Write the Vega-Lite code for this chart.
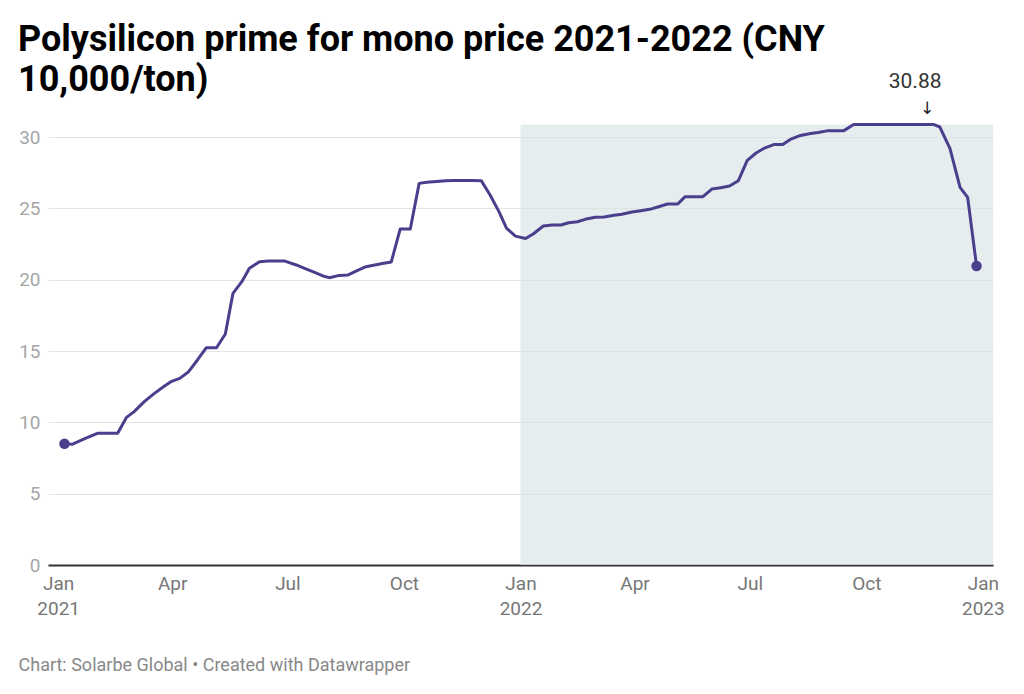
{
  "$schema": "https://vega.github.io/schema/vega-lite/v6.json",
  "width": 945,
  "height": 428,
  "autosize": {"type": "none"},
  "padding": {"left": 48, "top": 137, "right": 31, "bottom": 129},
  "background": "#ffffff",
  "config": {
    "font": "Roboto",
    "view": {"stroke": null}
  },
  "title": {
    "text": ["Polysilicon prime for mono price 2021-2022 (CNY", "10,000/ton)"],
    "anchor": "start",
    "frame": "group",
    "dx": -30,
    "fontSize": 36,
    "fontWeight": "bold",
    "font": "Roboto",
    "color": "#000000",
    "lineHeight": 40,
    "offset": -28
  },
  "datasets": {
    "price": [
      {"date": "2021-01-06", "value": 8.5},
      {"date": "2021-01-12", "value": 8.46},
      {"date": "2021-01-22", "value": 8.85},
      {"date": "2021-02-01", "value": 9.23},
      {"date": "2021-02-17", "value": 9.23},
      {"date": "2021-02-24", "value": 10.35},
      {"date": "2021-03-02", "value": 10.75},
      {"date": "2021-03-10", "value": 11.45},
      {"date": "2021-03-18", "value": 12.03},
      {"date": "2021-03-26", "value": 12.55},
      {"date": "2021-03-31", "value": 12.85},
      {"date": "2021-04-07", "value": 13.08},
      {"date": "2021-04-14", "value": 13.55},
      {"date": "2021-04-21", "value": 14.37},
      {"date": "2021-04-28", "value": 15.23},
      {"date": "2021-05-06", "value": 15.23},
      {"date": "2021-05-13", "value": 16.19},
      {"date": "2021-05-19", "value": 19.04},
      {"date": "2021-05-26", "value": 19.86},
      {"date": "2021-06-01", "value": 20.8},
      {"date": "2021-06-09", "value": 21.26},
      {"date": "2021-06-16", "value": 21.3},
      {"date": "2021-06-22", "value": 21.3},
      {"date": "2021-06-29", "value": 21.3},
      {"date": "2021-07-08", "value": 21.03},
      {"date": "2021-07-15", "value": 20.78},
      {"date": "2021-07-23", "value": 20.49},
      {"date": "2021-07-29", "value": 20.26},
      {"date": "2021-08-03", "value": 20.14},
      {"date": "2021-08-11", "value": 20.3},
      {"date": "2021-08-18", "value": 20.33},
      {"date": "2021-08-25", "value": 20.63},
      {"date": "2021-09-01", "value": 20.91},
      {"date": "2021-09-08", "value": 21.03},
      {"date": "2021-09-14", "value": 21.13},
      {"date": "2021-09-21", "value": 21.24},
      {"date": "2021-09-28", "value": 23.55},
      {"date": "2021-10-06", "value": 23.55},
      {"date": "2021-10-13", "value": 26.75},
      {"date": "2021-10-19", "value": 26.83},
      {"date": "2021-10-24", "value": 26.87},
      {"date": "2021-11-03", "value": 26.94},
      {"date": "2021-11-10", "value": 26.95},
      {"date": "2021-11-17", "value": 26.95},
      {"date": "2021-11-24", "value": 26.95},
      {"date": "2021-12-01", "value": 26.94},
      {"date": "2021-12-08", "value": 25.93},
      {"date": "2021-12-15", "value": 24.77},
      {"date": "2021-12-21", "value": 23.6},
      {"date": "2021-12-28", "value": 23.05},
      {"date": "2022-01-05", "value": 22.88},
      {"date": "2022-01-11", "value": 23.2},
      {"date": "2022-01-19", "value": 23.76},
      {"date": "2022-01-26", "value": 23.83},
      {"date": "2022-02-02", "value": 23.83},
      {"date": "2022-02-08", "value": 23.99},
      {"date": "2022-02-15", "value": 24.06},
      {"date": "2022-02-21", "value": 24.23},
      {"date": "2022-03-01", "value": 24.37},
      {"date": "2022-03-08", "value": 24.39},
      {"date": "2022-03-16", "value": 24.51},
      {"date": "2022-03-22", "value": 24.58},
      {"date": "2022-03-30", "value": 24.74},
      {"date": "2022-04-06", "value": 24.83},
      {"date": "2022-04-13", "value": 24.93},
      {"date": "2022-04-20", "value": 25.11},
      {"date": "2022-04-27", "value": 25.3},
      {"date": "2022-05-05", "value": 25.3},
      {"date": "2022-05-11", "value": 25.82},
      {"date": "2022-05-18", "value": 25.82},
      {"date": "2022-05-25", "value": 25.82},
      {"date": "2022-06-01", "value": 26.35},
      {"date": "2022-06-08", "value": 26.45},
      {"date": "2022-06-15", "value": 26.56},
      {"date": "2022-06-22", "value": 26.94},
      {"date": "2022-06-29", "value": 28.36},
      {"date": "2022-07-06", "value": 28.88},
      {"date": "2022-07-12", "value": 29.2},
      {"date": "2022-07-20", "value": 29.47},
      {"date": "2022-07-27", "value": 29.47},
      {"date": "2022-08-02", "value": 29.83},
      {"date": "2022-08-10", "value": 30.11},
      {"date": "2022-08-18", "value": 30.25},
      {"date": "2022-08-24", "value": 30.32},
      {"date": "2022-08-31", "value": 30.43},
      {"date": "2022-09-07", "value": 30.43},
      {"date": "2022-09-13", "value": 30.43},
      {"date": "2022-09-21", "value": 30.88},
      {"date": "2022-09-28", "value": 30.88},
      {"date": "2022-10-12", "value": 30.88},
      {"date": "2022-10-19", "value": 30.88},
      {"date": "2022-10-26", "value": 30.88},
      {"date": "2022-11-02", "value": 30.88},
      {"date": "2022-11-09", "value": 30.88},
      {"date": "2022-11-16", "value": 30.88},
      {"date": "2022-11-23", "value": 30.88},
      {"date": "2022-11-28", "value": 30.7},
      {"date": "2022-12-06", "value": 29.2},
      {"date": "2022-12-14", "value": 26.47},
      {"date": "2022-12-20", "value": 25.77},
      {"date": "2022-12-27", "value": 20.96}
    ],
    "ends": [
      {"date": "2021-01-06", "value": 8.5},
      {"date": "2022-12-27", "value": 20.96}
    ],
    "shade": [
      {"start": "2022-01-01", "end": "2023-01-09", "low": 0, "top": 30.88}
    ],
    "note": [
      {"date": "2022-11-18", "value": 30.88, "label": "30.88", "arrow": "↓"}
    ]
  },
  "layer": [
    {
      "data": {"name": "shade"},
      "mark": {"type": "rect", "color": "#d7e3e7", "opacity": 0.65},
      "encoding": {
        "x": {"field": "start", "type": "temporal"},
        "x2": {"field": "end"},
        "y": {"field": "low", "type": "quantitative"},
        "y2": {"field": "top"}
      }
    },
    {
      "data": {"name": "price"},
      "mark": {"type": "line", "color": "#4a3f8c", "strokeWidth": 3, "strokeJoin": "round", "strokeCap": "round"},
      "encoding": {
        "x": {
          "field": "date",
          "type": "temporal",
          "scale": {"domain": ["2020-12-24", "2023-01-09"]},
          "axis": {
            "tickCount": {"interval": "month", "step": 3},
            "labelExpr": "month(datum.value) === 0 ? ['Jan', '' + year(datum.value)] : timeFormat(datum.value, '%b')",
            "labelFontSize": 19,
            "labelColor": "#777777",
            "labelPadding": 9,
            "labelLineHeight": 25,
            "labelBaseline": "top",
            "labelFlush": false,
            "labelOverlap": false,
            "ticks": false,
            "grid": false,
            "domain": true,
            "domainColor": "#333333",
            "domainWidth": 2,
            "title": "Chart: Solarbe Global • Created with Datawrapper",
            "titleAnchor": "start",
            "titleAlign": "left",
            "titleX": -30,
            "titleY": 100,
            "titleBaseline": "middle",
            "titleFontSize": 18,
            "titleFontWeight": "normal",
            "titleColor": "#888888"
          }
        },
        "y": {
          "field": "value",
          "type": "quantitative",
          "scale": {"domain": [0, 30], "nice": false, "zero": true},
          "axis": {
            "values": [0, 5, 10, 15, 20, 25, 30],
            "title": null,
            "domain": false,
            "ticks": false,
            "grid": true,
            "gridColor": "#e4e4e4",
            "gridWidth": 1,
            "labelFontSize": 19,
            "labelColor": "#a6a6a6",
            "labelPadding": 8
          }
        }
      }
    },
    {
      "data": {"name": "ends"},
      "mark": {"type": "circle", "opacity": 1, "color": "#4a3f8c", "size": 110},
      "encoding": {
        "x": {"field": "date", "type": "temporal"},
        "y": {"field": "value", "type": "quantitative"}
      }
    },
    {
      "data": {"name": "note"},
      "mark": {"type": "text", "fontSize": 17, "color": "#222222", "baseline": "middle", "align": "center", "dy": -15, "font": "DejaVu Sans"},
      "encoding": {
        "x": {"field": "date", "type": "temporal"},
        "y": {"field": "value", "type": "quantitative"},
        "text": {"field": "arrow"}
      }
    },
    {
      "data": {"name": "note"},
      "mark": {"type": "text", "fontSize": 21, "color": "#333333", "baseline": "middle", "align": "center", "dx": -12, "dy": -42},
      "encoding": {
        "x": {"field": "date", "type": "temporal"},
        "y": {"field": "value", "type": "quantitative"},
        "text": {"field": "label"}
      }
    }
  ]
}
